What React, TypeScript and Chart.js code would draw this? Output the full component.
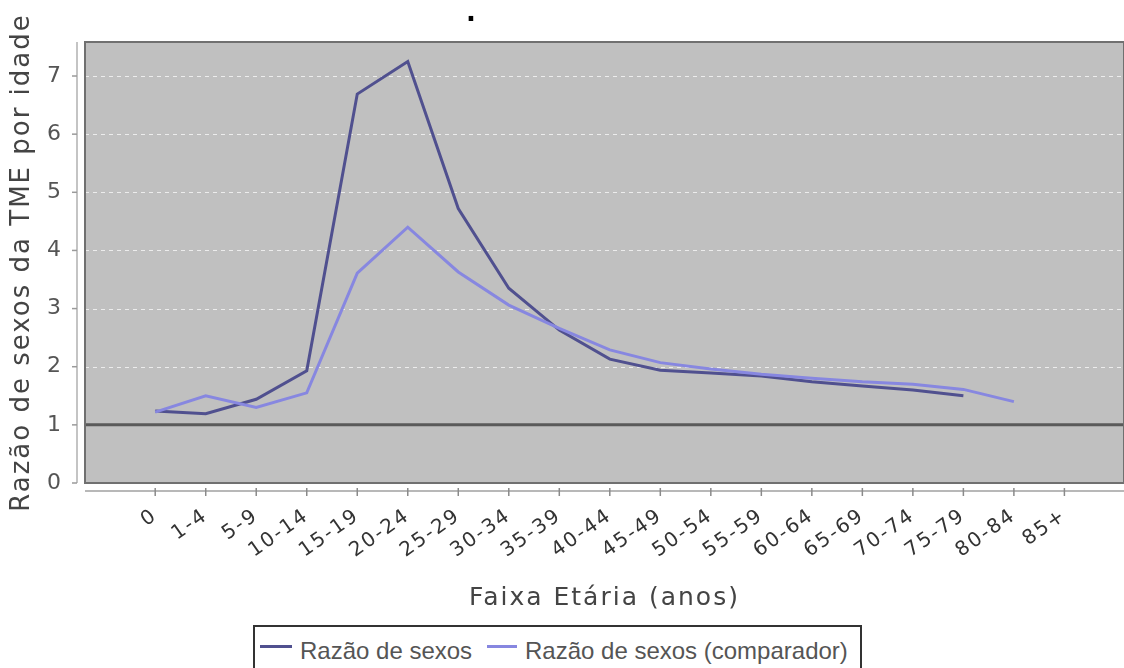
import React, { useEffect, useRef } from 'react';
import { Chart, registerables } from 'chart.js';

Chart.register(...registerables);

const ageGroups = ['0', '1-4', '5-9', '10-14', '15-19', '20-24', '25-29', '30-34', '35-39', '40-44', '45-49', '50-54', '55-59', '60-64', '65-69', '70-74', '75-79', '80-84', '85+'];
const razaoSexos = [1.24, 1.19, 1.44, 1.93, 6.69, 7.25, 4.72, 3.35, 2.63, 2.13, 1.94, 1.89, 1.84, 1.74, 1.67, 1.6, 1.5, null, null];
const razaoComparador = [1.22, 1.5, 1.3, 1.55, 3.61, 4.4, 3.63, 3.06, 2.66, 2.29, 2.07, 1.96, 1.87, 1.8, 1.74, 1.7, 1.61, 1.4, null];
const seriesNames = ['Razão de sexos', 'Razão de sexos (comparador)'];
const seriesColors = ['#50508f', '#8787e0'];
const referenceValue = 1;
const chartTitle = '.';
const xTitle = 'Faixa Etária (anos)';
const yTitle = 'Razão de sexos da TME por idade';

const decorPlugin = {
  id: 'decor',
  beforeDraw(chart: any) {
    chart.ctx.letterSpacing = '2px';
  },
  beforeDatasetsDraw(chart: any) {
    const { ctx, chartArea: a, scales } = chart;
    const ys = scales.y;
    const xs = scales.x;
    const line = (x1: number, y1: number, x2: number, y2: number) => {
      ctx.beginPath();
      ctx.moveTo(x1, y1);
      ctx.lineTo(x2, y2);
      ctx.stroke();
    };
    ctx.save();
    ctx.fillStyle = '#c0c0c0';
    ctx.fillRect(a.left, a.top, a.right - a.left, a.bottom - a.top);
    // dashed grid lines
    ctx.strokeStyle = '#ececec';
    ctx.lineWidth = 1;
    ctx.setLineDash([4, 4]);
    ys.ticks.forEach((t: any) => {
      if (t.value <= referenceValue) return;
      const py = Math.round(ys.getPixelForValue(t.value)) + 0.5;
      line(a.left, py, a.right, py);
    });
    ctx.setLineDash([]);
    // reference line
    ctx.strokeStyle = '#5a5a5a';
    ctx.lineWidth = 3;
    const pr = ys.getPixelForValue(referenceValue);
    line(a.left, pr, a.right, pr);
    // plot border
    ctx.strokeStyle = '#707070';
    ctx.lineWidth = 2;
    ctx.strokeRect(a.left, a.top, a.right - a.left, a.bottom - a.top);
    // y axis line + ticks
    const ax = a.left - 8;
    ctx.strokeStyle = '#c4c4c4';
    ctx.lineWidth = 2;
    line(ax, a.top, ax, a.bottom);
    ctx.strokeStyle = '#9a9a9a';
    ctx.lineWidth = 1.5;
    ys.ticks.forEach((t: any) => {
      const py = ys.getPixelForValue(t.value);
      line(ax - 5, py, ax, py);
    });
    // x axis line + ticks
    const ay = a.bottom + 8;
    ctx.strokeStyle = '#b8b8b8';
    ctx.lineWidth = 2;
    line(a.left, ay, a.right, ay);
    ctx.strokeStyle = '#8a8a8a';
    ctx.lineWidth = 1.5;
    xs.ticks.forEach((t: any) => {
      const px = xs.getPixelForValue(t.value);
      line(px, ay - 3, px, ay + 5);
    });
    ctx.restore();
  },
  afterDraw(chart: any) {
    const ctx = chart.ctx;
    ctx.save();
    ctx.letterSpacing = '0px';
    ctx.fillStyle = '#000';
    ctx.font = 'bold 26px "DejaVu Sans"';
    ctx.textAlign = 'center';
    ctx.textBaseline = 'alphabetic';
    ctx.fillText(chartTitle, 471, 21);
    ctx.restore();
    ctx.letterSpacing = '0px';
  },
};

export default function App() {
  const ref = useRef<HTMLCanvasElement>(null);

  useEffect(() => {
    document.body.style.margin = '0';
    const toPoints = (vals: (number | null)[]) => vals.map((v, i) => ({ x: i, y: v }));
    const chart = new Chart(ref.current as HTMLCanvasElement, {
      type: 'line',
      data: {
        datasets: [
          {
            label: seriesNames[0],
            data: toPoints(razaoSexos) as any,
            borderColor: seriesColors[0],
            backgroundColor: seriesColors[0],
            borderWidth: 3,
            pointRadius: 0,
            fill: false,
            tension: 0,
            order: 1,
          },
          {
            label: seriesNames[1],
            data: toPoints(razaoComparador) as any,
            borderColor: seriesColors[1],
            backgroundColor: seriesColors[1],
            borderWidth: 3,
            pointRadius: 0,
            fill: false,
            tension: 0,
            order: 0,
          },
        ],
      },
      options: {
        animation: false,
        responsive: true,
        maintainAspectRatio: false,
        layout: { padding: { top: 42, right: 0, bottom: 0, left: 0 } },
        plugins: {
          legend: { display: false },
          tooltip: { enabled: false },
          title: { display: false },
        },
        scales: {
          x: {
            type: 'linear',
            min: -1.39,
            max: 19.18,
            grid: { display: false },
            border: { display: false },
            afterBuildTicks: (s: any) => {
              s.ticks = s.ticks.filter((t: any) => Number.isInteger(t.value) && t.value >= 0 && t.value < ageGroups.length);
            },
            afterFit: (s: any) => {
              s.height = 185;
            },
            ticks: {
              stepSize: 1,
              autoSkip: false,
              minRotation: 35,
              maxRotation: 35,
              padding: 13,
              color: '#333',
              font: { family: 'DejaVu Sans', size: 20 },
              callback: (v: any) => ageGroups[v] ?? '',
            },
            title: {
              display: true,
              text: xTitle,
              color: '#444',
              font: { family: 'DejaVu Sans', size: 25 },
              padding: { top: 0, bottom: 55 },
            },
          },
          y: {
            type: 'linear',
            min: 0,
            max: 7.585,
            grid: { display: false },
            border: { display: false },
            afterBuildTicks: (s: any) => {
              s.ticks = s.ticks.filter((t: any) => Number.isInteger(t.value));
            },
            afterFit: (s: any) => {
              s.width = 85;
            },
            ticks: {
              stepSize: 1,
              padding: 14,
              color: '#555',
              font: { family: 'DejaVu Sans', size: 22 },
            },
            title: {
              display: true,
              text: yTitle,
              color: '#444',
              font: { family: 'DejaVu Sans', size: 26 },
              padding: { top: 7, bottom: 0 },
            },
          },
        },
      } as any,
      plugins: [decorPlugin],
    });
    return () => chart.destroy();
  }, []);

  return (
    <div style={{ position: 'relative', width: 1124, height: 668, background: '#fff', overflow: 'hidden' }}>
      <canvas ref={ref} />
      <div
        style={{
          position: 'absolute',
          left: 253,
          top: 625,
          width: 609,
          height: 60,
          boxSizing: 'border-box',
          border: '2px solid #333',
          background: '#fff',
          fontFamily: '"Liberation Sans", Arial, sans-serif',
          fontSize: 24,
          color: '#555',
        }}
      >
        {seriesNames.map((name, i) => (
          <React.Fragment key={name}>
            <div
              style={{
                position: 'absolute',
                left: i === 0 ? 5 : 232,
                top: 18,
                width: i === 0 ? 32 : 30,
                height: 3,
                background: seriesColors[i],
              }}
            />
            <div
              style={{
                position: 'absolute',
                left: i === 0 ? 45 : 270,
                top: 10,
                lineHeight: '28px',
                whiteSpace: 'nowrap',
              }}
            >
              {name}
            </div>
          </React.Fragment>
        ))}
      </div>
    </div>
  );
}
